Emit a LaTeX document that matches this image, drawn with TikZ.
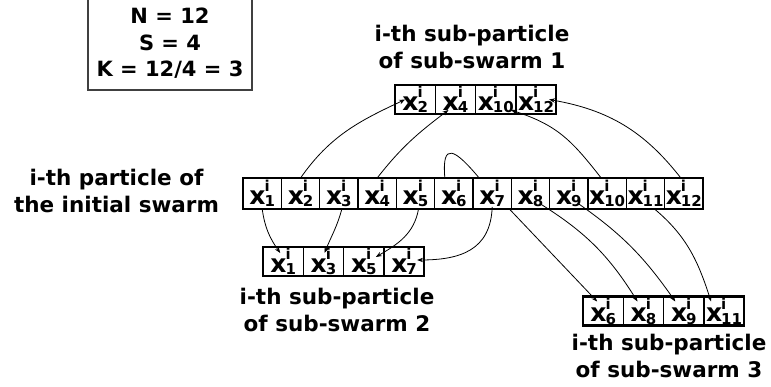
\documentclass[tikz,border=0pt]{standalone}
\usepackage{fontspec}
\setmainfont{DejaVu Sans}
\usetikzlibrary{arrows.meta,positioning}
\newcommand{\subsz}{\fontsize{15}{15}\selectfont}
\newcommand{\xk}[1]{x\kern-1pt\rlap{\raisebox{12.5pt}{\subsz i}}\raisebox{-2.5pt}{\subsz #1}}
\tikzset{
  cell/.style={draw=black,fill=white,line width=1.2pt,outer sep=0pt,inner sep=0pt,minimum width=38.33pt,minimum height=31pt,font=\fontsize{25}{25}\selectfont\bfseries},
  subcell/.style={cell,minimum width=40.3pt,minimum height=29pt},
  rowframe/.style={draw=black,line width=2.2pt},
  lbl/.style={align=center,font=\fontsize{21.5}{27}\selectfont\bfseries},
  arr/.style={-{Stealth[length=6pt,width=4.5pt]},line width=0.8pt},
  loopline/.style={line width=0.8pt}
}

\begin{document}
\begin{tikzpicture}[x=1pt,y=1pt]
  \useasboundingbox (0,0) rectangle (771,387);
  \fill[white] (0,0) rectangle (771,387);

  % parameters box, its top edge runs off the page
  \node[draw=black!75,line width=1.1pt,minimum width=164pt,minimum height=93pt,align=center,font=\fontsize{21}{26.5}\selectfont\bfseries] (params) at (170,343.5) {N = 12\\S = 4\\K = 12/4 = 3};

  % initial swarm
  \node[cell] (m1) at (262.2,193.5) {\xk{1}};
  \foreach \k [remember=\k as \p (initially 1)] in {2,...,12}
    \node[cell,right=0pt of m\p] (m\k) {\xk{\k}};
  \draw[rowframe] (m1.north west) rectangle (m12.south east);

  % sub-swarms
  \node[subcell] (a1) at (415.2,287.5) {\xk{2}};
  \foreach \v [count=\k from 2,remember=\k as \p (initially 1)] in {4,10,12}
    \node[subcell,right=0pt of a\p] (a\k) {\xk{\v}};
  \draw[rowframe] (a1.north west) rectangle (a4.south east);

  \node[subcell] (b1) at (283.2,125.5) {\xk{1}};
  \foreach \v [count=\k from 2,remember=\k as \p (initially 1)] in {3,5,7}
    \node[subcell,right=0pt of b\p] (b\k) {\xk{\v}};
  \draw[rowframe] (b1.north west) rectangle (b4.south east);

  \node[subcell] (c1) at (603.2,76) {\xk{6}};
  \foreach \v [count=\k from 2,remember=\k as \p (initially 1)] in {8,9,11}
    \node[subcell,right=0pt of c\p] (c\k) {\xk{\v}};
  \draw[rowframe] (c1.north west) rectangle (c4.south east);

  % labels
  \node[lbl] (lmain) at (116.5,196) {i-th particle of\\the initial swarm};
  \node[lbl] (lsub1) at (472,340) {i-th sub-particle\\of sub-swarm 1};
  \node[lbl] (lsub2) at (337,77.5) {i-th sub-particle\\of sub-swarm 2};
  \node[lbl] (lsub3) at (669,31.5) {i-th sub-particle\\of sub-swarm 3};

  % to sub-swarm 1
  \draw[arr] (m2.north) to[out=55,in=205] ([xshift=-10pt]a1.center);
  \draw[arr] (m4.north) to[out=52,in=217] ([xshift=-7pt,yshift=4pt]a2.south);
  \draw[arr] ([xshift=-6pt]m10.north) to[out=128,in=-18,looseness=1.1] ([xshift=15pt,yshift=4pt]a3.south);
  \draw[arr] ([xshift=-3pt]m12.north) to[out=128,in=-10] ([xshift=13pt]a4.center);

  % to sub-swarm 2
  \draw[arr] (m1.south) to[out=-82,in=125] ([xshift=-3pt,yshift=-6pt]b1.north);
  \draw[arr] ([xshift=3pt]m3.south) to[out=-105,in=68] ([xshift=1pt,yshift=-6pt]b2.north);
  \draw[arr] ([xshift=3pt]m5.south) to[out=-100,in=30] ([xshift=12pt,yshift=-10pt]b3.north);
  \draw[arr] ([yshift=2pt]m7.south) to[out=-92,in=0,looseness=1.2] ([xshift=13pt,yshift=1.5pt]b4.center);

  % to sub-swarm 3
  \draw[loopline] ([xshift=-9pt]m6.north) to[out=95,in=130,looseness=2.8] ([xshift=-13pt]m7.north);
  \draw[arr] ([xshift=-2pt]m7.south east) -- ([xshift=-6pt,yshift=-5pt]c1.north);
  \draw[arr] ([xshift=10pt,yshift=5pt]m8.south) to[out=-32,in=122] ([xshift=-6pt,yshift=-5pt]c2.north);
  \draw[arr] ([xshift=10pt,yshift=5pt]m9.south) to[out=-35,in=125] ([xshift=-8.5pt,yshift=-5pt]c3.north);
  \draw[arr] ([xshift=9pt]m11.south) to[out=-40,in=108] ([xshift=-13pt,yshift=-5pt]c4.north);
\end{tikzpicture}
\end{document}
